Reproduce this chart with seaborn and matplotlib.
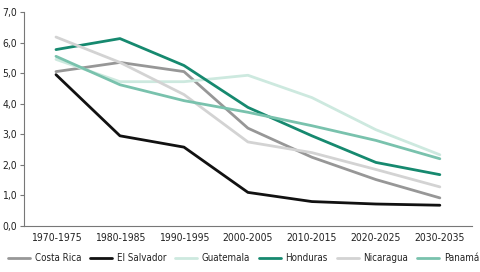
import pandas as pd
import matplotlib.pyplot as plt
import seaborn as sns
from matplotlib.ticker import FuncFormatter, FixedLocator

# Periods and values per country
periods = ['1970-1975', '1980-1985', '1990-1995', '2000-2005', '2010-2015', '2020-2025', '2030-2035']
costa_rica = [5.05, 5.35, 5.05, 3.2, 2.25, 1.52, 0.92]
el_salvador = [4.95, 2.95, 2.58, 1.1, 0.8, 0.72, 0.68]
guatemala = [5.45, 4.72, 4.72, 4.93, 4.2, 3.15, 2.33]
honduras = [5.77, 6.13, 5.25, 3.88, 2.95, 2.08, 1.68]
nicaragua = [6.18, 5.35, 4.3, 2.75, 2.4, 1.85, 1.28]
panama = [5.55, 4.62, 4.1, 3.72, 3.28, 2.8, 2.2]

countries = ['Costa Rica', 'El Salvador', 'Guatemala', 'Honduras', 'Nicaragua', 'Panamá']
series = [costa_rica, el_salvador, guatemala, honduras, nicaragua, panama]

colors = {'Costa Rica': '#979797',
          'El Salvador': '#111111',
          'Guatemala': '#cde9df',
          'Honduras': '#16896f',
          'Nicaragua': '#d3d3d3',
          'Panamá': '#79c2ad'}

rows = []
for name, vals in zip(countries, series):
    for p, v in zip(periods, vals):
        rows.append({'period': p, 'value': v, 'country': name})
df = pd.DataFrame(rows)

sns.set_style('white')
plt.rcParams['font.family'] = ['Liberation Sans Narrow', 'DejaVu Sans']
plt.rcParams['font.stretch'] = 'condensed'
plt.rcParams['text.color'] = '#222222'
plt.rcParams['xtick.labelcolor'] = '#222222'
plt.rcParams['ytick.labelcolor'] = '#222222'

fig = plt.figure(figsize=(4.8, 2.72), dpi=100)
ax = fig.add_axes([0.05, 0.169, 0.933, 0.787])

sns.lineplot(data=df, x='period', y='value', hue='country', hue_order=countries,
             palette=colors, linewidth=2, ax=ax, sort=False)

ax.set_xlim(-0.5, 6.5)
ax.set_ylim(0, 7)
ax.set_yticks(range(8))
ax.yaxis.set_major_formatter(FuncFormatter(lambda v, _: f'{v:.1f}'.replace('.', ',')))
ax.set_xlabel('')
ax.set_ylabel('')

# tick marks between the categories
ax.tick_params(axis='x', which='major', length=0, labelsize=7.5, pad=5)
ax.xaxis.set_minor_locator(FixedLocator([i - 0.5 for i in range(8)]))
ax.tick_params(axis='x', which='minor', length=3, color='#777777', direction='out')
ax.tick_params(axis='y', length=3, color='#777777', labelsize=7.5, direction='out', left=True, pad=2)

for s in ['top', 'right']:
    ax.spines[s].set_visible(False)
for s in ['left', 'bottom']:
    ax.spines[s].set_color('#777777')
    ax.spines[s].set_linewidth(0.8)

ax.legend(loc='upper center', bbox_to_anchor=(0.49, -0.085), ncol=6, frameon=False,
          fontsize=7, handlelength=2.3, columnspacing=0.9, handletextpad=0.45)

plt.savefig('out.png', dpi=100)
